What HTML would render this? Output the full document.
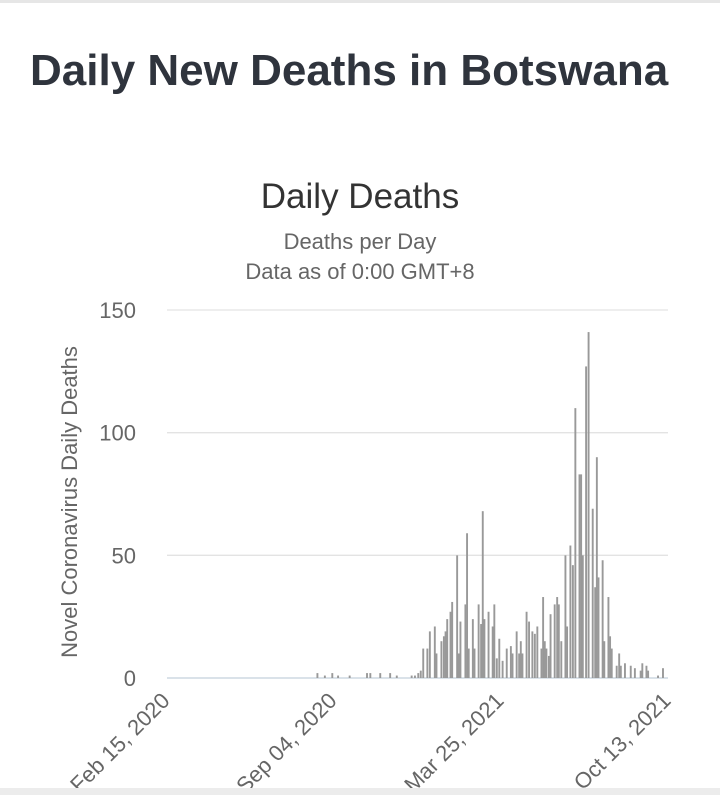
<!DOCTYPE html>
<html><head><meta charset="utf-8"><style>
html,body{margin:0;padding:0;background:#fff;}
body{width:720px;height:795px;position:relative;overflow:hidden;font-family:"Liberation Sans",sans-serif;}
</style></head><body>
<div style="position:absolute;left:0;top:0;width:720px;height:3px;background:#e6e6e6"></div>
<div style="position:absolute;left:30px;top:46px;font-size:44px;font-weight:bold;color:#2f343d;white-space:nowrap">Daily New Deaths in Botswana</div>
<svg width="720" height="795" style="position:absolute;left:0;top:0">
<text x="360" y="208" text-anchor="middle" font-size="35" fill="#333">Daily Deaths</text>
<text x="360" y="249" text-anchor="middle" font-size="22" fill="#666">Deaths per Day</text>
<text x="360" y="279" text-anchor="middle" font-size="22" fill="#666">Data as of 0:00 GMT+8</text>
<text transform="translate(77,502) rotate(-90)" text-anchor="middle" font-size="22" fill="#666">Novel Coronavirus Daily Deaths</text>
<g id="grid"></g><g id="bars"></g><g id="xlabels"></g>
</svg>
<div style="position:absolute;left:0;top:788px;width:720px;height:7px;background:#ececec"></div>
<script>
const yTicks=[0,50,100,150];
const xTickLabels=["Feb 15, 2020","Sep 04, 2020","Mar 25, 2021","Oct 13, 2021"];
const xTickDays=[0,202,404,606];
const days=[182,191,200,207,221,242,246,258,270,278,296,300,304,307,310,315,318,324,326,332,335,337,339,343,345,351,353,355,361,363,365,370,372,377,380,382,384,389,394,396,399,402,406,411,416,418,423,426,428,430,435,438,442,445,448,453,455,457,459,462,464,469,472,474,477,482,484,488,491,494,499,501,503,507,510,515,518,520,522,527,529,534,536,538,544,547,549,554,561,566,573,575,580,582,594,600];
const deaths=[2,1,2,1,1,2,2,2,2,1,1,1,2,3,12,12,19,21,10,15,17,19,24,27,31,50,10,23,30,59,12,24,12,30,22,68,24,27,21,30,8,16,7,12,13,10,19,10,15,10,27,23,19,18,21,12,33,15,12,9,26,30,33,30,15,50,21,54,46,110,83,83,50,127,141,69,37,90,41,48,15,33,17,12,5,10,5,6,5,4,3,6,5,3,1,4];
const X0=167,X1=668,Y0=678,Y1=310,NS="http://www.w3.org/2000/svg";
const xs=d=>X0+(X1-X0)*d/606, ys=v=>Y0-(Y0-Y1)*v/150;
const grid=document.getElementById('grid');
yTicks.forEach(t=>{
 const l=document.createElementNS(NS,'line');
 
 
 l.setAttribute('x1',X0);l.setAttribute('x2',X1);l.setAttribute('y1',ys(t));l.setAttribute('y2',ys(t));
 l.setAttribute('stroke',t===0?'#c4d0dc':'#e3e3e3');l.setAttribute('stroke-width','1.3');grid.appendChild(l);
 const tx=document.createElementNS(NS,'text');
 
 
 tx.setAttribute('x',136);tx.setAttribute('y',ys(t)+8);tx.setAttribute('text-anchor','end');
 tx.setAttribute('font-size','22');tx.setAttribute('fill','#666');tx.textContent=t;grid.appendChild(tx);
});
const bars=document.getElementById('bars');
days.forEach((d,i)=>{
 const r=document.createElementNS(NS,'rect');
 
 
 const h=Y0-ys(deaths[i]);
 r.setAttribute('x',xs(d)-1);r.setAttribute('y',ys(deaths[i]));r.setAttribute('width',1.9);r.setAttribute('height',h);
 r.setAttribute('fill','#999');bars.appendChild(r);
});
const xl=document.getElementById('xlabels');
xTickLabels.forEach((s,i)=>{
 const tx=document.createElementNS(NS,'text');
 
 
 const x=xs(xTickDays[i])+4,y=702;
 tx.setAttribute('transform','translate('+x+','+y+') rotate(-45)');
 tx.setAttribute('text-anchor','end');tx.setAttribute('font-size','22');tx.setAttribute('fill','#666');
 tx.textContent=s;xl.appendChild(tx);
});
</script>
</body></html>
